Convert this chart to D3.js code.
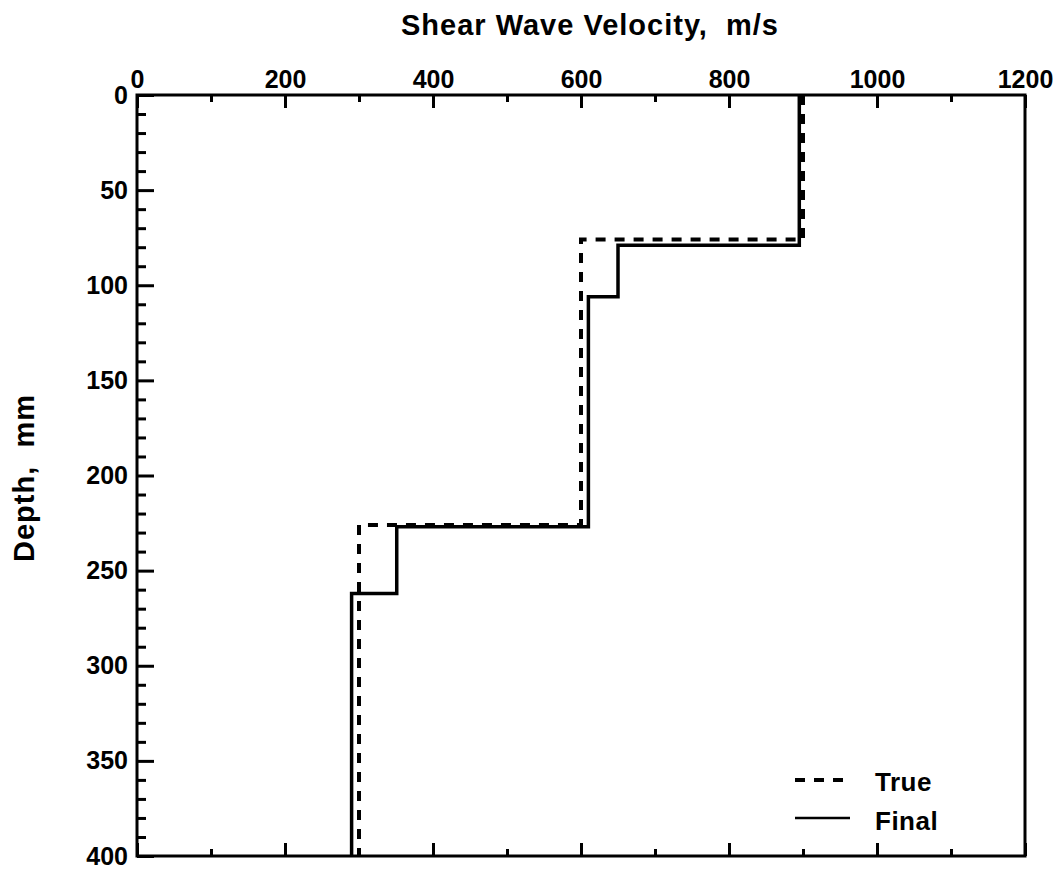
<!DOCTYPE html>
<html>
<head>
<meta charset="utf-8">
<script src="https://cdn.jsdelivr.net/npm/d3@7"></script>
<style>
body { margin: 0; background: #fff; }
text { font-family: "Liberation Sans", Arial, sans-serif; font-weight: bold; fill: #000; white-space: pre; }
</style>
</head>
<body>
<script>
// layer tops (mm) and velocities (m/s), last layer runs to the bottom
var trueTops = [0, 76, 226];
var trueVel = [900, 600, 300];
var finalTops = [0, 79, 106, 227, 262];
var finalVel = [895, 650, 610, 351, 290];
var maxDepth = 400;

var xMajor = [0, 200, 400, 600, 800, 1000, 1200];
var xMinor = [100, 300, 500, 700, 900, 1100];
var yMajor = [0, 50, 100, 150, 200, 250, 300, 350, 400];

var svg = d3.select("body").append("svg")
  .attr("width", 1064)
  .attr("height", 870);

var x = d3.scaleLinear().domain([0, 1200]).range([137, 1025]);
var y = d3.scaleLinear().domain([0, 400]).range([95, 856]);

// build step profile points from layers
function profile(tops, vel) {
  var pts = [];
  for (var i = 0; i < tops.length; i++) {
    var bot = i < tops.length - 1 ? tops[i + 1] : maxDepth;
    pts.push([vel[i], tops[i]]);
    pts.push([vel[i], bot]);
  }
  return pts;
}

var line = d3.line()
  .x(function (d) { return x(d[0]); })
  .y(function (d) { return y(d[1]); });

// top axis
svg.append("g").attr("transform", "translate(0," + y(0) + ")")
  .call(d3.axisTop(x).tickValues(xMajor).tickSize(-13).tickPadding(7).tickFormat(d3.format("d")));
svg.append("g").attr("transform", "translate(0," + y(0) + ")")
  .call(d3.axisTop(x).tickValues(xMinor).tickSize(-7).tickFormat(""));

// bottom axis (ticks only)
svg.append("g").attr("transform", "translate(0," + y(400) + ")")
  .call(d3.axisBottom(x).tickValues(xMajor).tickSize(-13).tickFormat(""));
svg.append("g").attr("transform", "translate(0," + y(400) + ")")
  .call(d3.axisBottom(x).tickValues(xMinor).tickSize(-7).tickFormat(""));

// left axis
svg.append("g").attr("transform", "translate(" + x(0) + ",0)")
  .call(d3.axisLeft(y).tickValues(yMajor).tickSize(-17).tickPadding(9).tickFormat(d3.format("d")));
svg.append("g").attr("transform", "translate(" + x(0) + ",0)")
  .call(d3.axisLeft(y).tickValues(d3.range(10, 400, 10).filter(function (d) { return d % 50 != 0; }))
    .tickSize(-9).tickFormat(""));

svg.selectAll(".domain").remove();
svg.selectAll(".tick line").attr("stroke", "#000").attr("stroke-width", 3);
svg.selectAll(".tick text").style("font-size", "25px").attr("fill", "#000");

// frame
svg.append("rect")
  .attr("x", x(0)).attr("y", y(0))
  .attr("width", x(1200) - x(0)).attr("height", y(400) - y(0))
  .attr("fill", "none").attr("stroke", "#000").attr("stroke-width", 3);

// profiles
svg.append("path")
  .datum(profile(trueTops, trueVel))
  .attr("d", line)
  .attr("fill", "none").attr("stroke", "#000")
  .attr("stroke-width", 4).attr("stroke-dasharray", "10,9");
svg.append("path")
  .datum(profile(finalTops, finalVel))
  .attr("d", line)
  .attr("fill", "none").attr("stroke", "#000")
  .attr("stroke-width", 3.5);

// titles
svg.append("text")
  .attr("x", 590).attr("y", 35)
  .attr("text-anchor", "middle")
  .style("font-size", "29px").style("letter-spacing", "1px")
  .text("Shear Wave Velocity,  m/s");
svg.append("text")
  .attr("transform", "translate(34," + 478 + ") rotate(-90)")
  .attr("text-anchor", "middle")
  .style("font-size", "29px").style("letter-spacing", "1px")
  .text("Depth,  mm");

// legend
var leg = svg.append("g");
leg.append("line").attr("x1", 795).attr("x2", 846).attr("y1", 780).attr("y2", 780)
  .attr("stroke", "#000").attr("stroke-width", 4).attr("stroke-dasharray", "10,9");
leg.append("line").attr("x1", 795).attr("x2", 850).attr("y1", 818).attr("y2", 818)
  .attr("stroke", "#000").attr("stroke-width", 2.5);
leg.append("text").attr("x", 875).attr("y", 791).style("font-size", "26px").style("letter-spacing", "0.5px").text("True");
leg.append("text").attr("x", 875).attr("y", 830).style("font-size", "26px").style("letter-spacing", "0.5px").text("Final");
</script>
</body>
</html>
